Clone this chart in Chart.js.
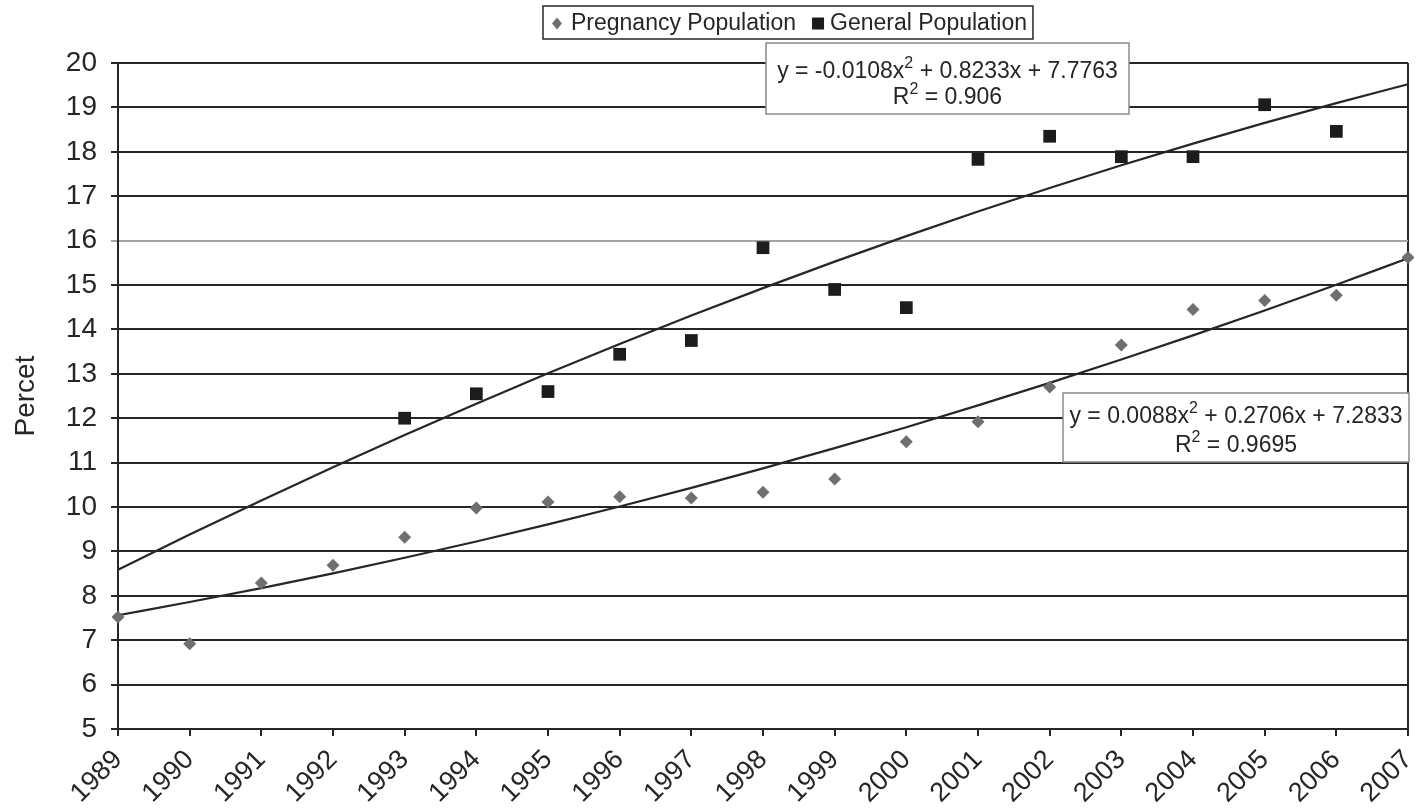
<!DOCTYPE html>
<html>
<head>
<meta charset="utf-8">
<script src="https://cdn.jsdelivr.net/npm/chart.js@4.4.1/dist/chart.umd.min.js"></script>
<style>
  html, body { margin: 0; padding: 0; background: #fff; }
  #wrap { width: 1417px; height: 811px; }
</style>
</head>
<body>
<div id="wrap"><canvas id="myChart" width="1417" height="811"></canvas></div>
<script>
// values
const years = ['1989', '1990', '1991', '1992', '1993', '1994', '1995', '1996', '1997', '1998',
  '1999', '2000', '2001', '2002', '2003', '2004', '2005', '2006', '2007'];
const pregnancy = [7.52, 6.92, 8.29, 8.69, 9.32, 9.98, 10.11, 10.23, 10.2, 10.33,
  10.63, 11.47, 11.92, 12.7, 13.65, 14.45, 14.65, 14.77, 15.62];
const general = [null, null, null, null, 12.0, 12.55, 12.6, 13.44, 13.75, 15.84,
  14.9, 14.49, 17.83, 18.35, 17.89, 17.89, 19.06, 18.46, null];

// polynomial trendlines as printed on the chart (x = 1 for 1989)
const generalFit = [-0.0108, 0.8233, 7.7763];
const pregnancyFit = [0.0088, 0.2706, 7.2833];
const generalEq = [['y = -0.0108x', '2', ' + 0.8233x + 7.7763'], ['R', '2', ' = 0.906']];
const pregnancyEq = [['y = 0.0088x', '2', ' + 0.2706x + 7.2833'], ['R', '2', ' = 0.9695']];

const FONT = '"Liberation Sans", Arial, sans-serif';
const INK = '#262626';

function fitLine(c) {
  return years.map((_, i) => {
    const x = i + 1;
    return c[0] * x * x + c[1] * x + c[2];
  });
}

// text with a small raised "2"
function drawEq(ctx, parts, cx, base, size) {
  const small = Math.round(size * 0.68);
  ctx.font = size + 'px ' + FONT;
  const w0 = ctx.measureText(parts[0]).width;
  const w2 = ctx.measureText(parts[2]).width;
  ctx.font = small + 'px ' + FONT;
  const w1 = ctx.measureText(parts[1]).width;
  let x = cx - (w0 + w1 + w2) / 2;
  ctx.textAlign = 'left';
  ctx.textBaseline = 'alphabetic';
  ctx.font = size + 'px ' + FONT;
  ctx.fillText(parts[0], x, base);
  x += w0;
  ctx.font = small + 'px ' + FONT;
  ctx.fillText(parts[1], x, base - size * 0.42);
  x += w1;
  ctx.font = size + 'px ' + FONT;
  ctx.fillText(parts[2], x, base);
}

function eqBox(ctx, eq, left, top, right, bottom, b1, b2) {
  ctx.fillStyle = '#fff';
  ctx.fillRect(left, top, right - left, bottom - top);
  ctx.strokeStyle = '#8a8a8a';
  ctx.lineWidth = 1.5;
  ctx.strokeRect(left, top, right - left, bottom - top);
  ctx.fillStyle = INK;
  const cx = (left + right) / 2;
  drawEq(ctx, eq[0], cx, b1, 23);
  drawEq(ctx, eq[1], cx, b2, 23);
}

const annotations = {
  id: 'annotations',
  afterDraw(chart) {
    const ctx = chart.ctx;
    ctx.save();
    eqBox(ctx, generalEq, 766, 43, 1129, 114, 78, 104);
    eqBox(ctx, pregnancyEq, 1063, 393, 1409, 462, 423, 452);

    // legend box
    const items = chart.data.datasets.filter(d => d.legend);
    ctx.font = '23px ' + FONT;
    const x0 = 543, y0 = 6, h = 33, cy = y0 + h / 2 + 1;
    let x = x0 + 14;
    ctx.textBaseline = 'middle';
    ctx.textAlign = 'left';
    items.forEach((d, i) => {
      ctx.fillStyle = d.pointBackgroundColor;
      if (d.pointStyle === 'rectRot') {
        ctx.beginPath();
        ctx.moveTo(x, cy - 6);
        ctx.lineTo(x + 5, cy);
        ctx.lineTo(x, cy + 6);
        ctx.lineTo(x - 5, cy);
        ctx.closePath();
        ctx.fill();
      } else {
        ctx.fillRect(x - 6, cy - 6, 12, 12);
      }
      ctx.fillStyle = INK;
      const tx = x + (i === 0 ? 14 : 12);
      ctx.fillText(d.label, tx, cy);
      x = tx + ctx.measureText(d.label).width + 22;
    });
    ctx.strokeStyle = INK;
    ctx.lineWidth = 1.5;
    ctx.strokeRect(x0, y0, x - 22 + 6 - x0, h);
    ctx.restore();
  }
};

const ctx = document.getElementById('myChart').getContext('2d');

new Chart(ctx, {
  type: 'line',
  data: {
    labels: years,
    datasets: [
      {
        label: 'Pregnancy Population',
        legend: true,
        data: pregnancy,
        showLine: false,
        pointStyle: 'rectRot',
        pointRadius: 6.5,
        pointBorderWidth: 0,
        pointBackgroundColor: '#6f6f6f',
        borderColor: '#6f6f6f'
      },
      {
        label: 'General Population',
        legend: true,
        data: general,
        showLine: false,
        pointStyle: 'rect',
        pointRadius: 9,
        pointBorderWidth: 0,
        pointBackgroundColor: '#1c1c1c',
        borderColor: '#1c1c1c'
      },
      {
        label: 'General trend',
        data: fitLine(generalFit),
        borderColor: INK,
        borderWidth: 2.2,
        pointRadius: 0,
        cubicInterpolationMode: 'monotone'
      },
      {
        label: 'Pregnancy trend',
        data: fitLine(pregnancyFit),
        borderColor: INK,
        borderWidth: 2.2,
        pointRadius: 0,
        cubicInterpolationMode: 'monotone'
      }
    ]
  },
  options: {
    responsive: false,
    animation: false,
    layout: { padding: { top: 63, right: 8, left: 0, bottom: 0 } },
    plugins: {
      legend: { display: false },
      tooltip: { enabled: false }
    },
    scales: {
      x: {
        afterFit(scale) {
          scale.height = 82;
          scale.paddingRight = 0;
        },
        ticks: {
          autoSkip: false,
          minRotation: 45,
          maxRotation: 45,
          color: INK,
          padding: 8,
          font: { family: FONT, size: 27 }
        },
        grid: {
          color: c => (c.index === years.length - 1 ? INK : 'rgba(0,0,0,0)'),
          tickColor: INK,
          tickLength: 7,
          lineWidth: 2
        },
        border: { color: INK, width: 2 }
      },
      y: {
        min: 5,
        max: 20,
        afterFit(scale) { scale.width = 118; },
        ticks: {
          stepSize: 1,
          color: INK,
          padding: 14,
          font: { family: FONT, size: 28 }
        },
        grid: {
          color: c => (c.tick && c.tick.value === 16 ? '#a3a3a3' : INK),
          tickColor: c => (c.tick && c.tick.value === 16 ? '#a3a3a3' : INK),
          tickLength: 7,
          lineWidth: 2
        },
        border: { color: INK, width: 2 },
        title: {
          display: true,
          text: 'Percet',
          color: INK,
          padding: { top: 9, bottom: 0 },
          font: { family: FONT, size: 28 }
        }
      }
    }
  },
  plugins: [annotations]
});
</script>
</body>
</html>
